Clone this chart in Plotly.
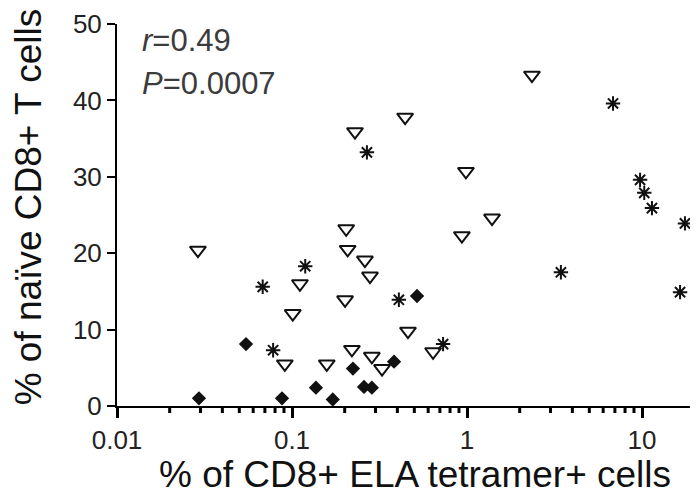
import plotly.graph_objects as go

# ---- data ----
tri_x = [0.029, 0.091, 0.101, 0.111, 0.158, 0.201, 0.204, 0.208, 0.220, 0.229,
         0.261, 0.279, 0.286, 0.327, 0.443, 0.46, 0.64, 0.935, 0.986, 1.39, 2.35]
tri_y = [20.4, 5.5, 12.1, 16.0, 5.5, 13.9, 23.2, 20.5, 7.4, 35.9,
         19.1, 17.0, 6.5, 4.9, 37.8, 9.8, 7.1, 22.3, 30.7, 24.6, 43.3]

ast_x = [0.068, 0.078, 0.119, 0.268, 0.408, 0.73, 3.44, 6.83, 9.75, 10.3, 11.4, 16.5, 17.6]
ast_y = [15.6, 7.3, 18.3, 33.2, 13.9, 8.1, 17.5, 39.6, 29.6, 27.9, 25.9, 14.9, 23.9]

dia_x = [0.0294, 0.0546, 0.0877, 0.137, 0.171, 0.223, 0.258, 0.286, 0.383, 0.518]
dia_y = [1.0, 8.1, 1.0, 2.4, 0.85, 4.9, 2.5, 2.4, 5.8, 14.4]

x_tick_vals = [0.01, 0.1, 1, 10]
x_tick_text = ["0.01", "0.1", "1", "10"]
y_tick_vals = [0, 10, 20, 30, 40, 50]

x_title = "% of CD8+ ELA tetramer+ cells"
y_title = "% of naïve CD8+ T cells"
stat_r = "<i>r</i>=0.49"
stat_p = "<i>P</i>=0.0007"

FONT = "Liberation Sans, Arial, sans-serif"
X_RANGE = [-2, 1.3143]

minor_vals = [m * 10 ** e for e in (-2, -1, 0, 1) for m in range(2, 10)
              if m * 10 ** e < 20]

fig = go.Figure()
fig.add_trace(go.Scatter(
    x=tri_x, y=tri_y, mode="markers", cliponaxis=False,
    marker=dict(symbol="triangle-down-open", size=14, color="#111111",
                line=dict(width=2, color="#111111")),
))
fig.add_trace(go.Scatter(
    x=ast_x, y=ast_y, mode="markers", cliponaxis=False,
    marker=dict(symbol="asterisk", size=12, color="#111111",
                line=dict(width=2, color="#111111")),
))
fig.add_trace(go.Scatter(
    x=dia_x, y=dia_y, mode="markers", cliponaxis=False,
    marker=dict(symbol="diamond", size=11, color="#111111",
                line=dict(width=0)),
))

# minor log ticks drawn as short pixel-sized lines below the x axis
minor_shapes = [
    dict(type="line", xref="x", yref="paper", x0=v, x1=v,
         ysizemode="pixel", yanchor=0, y0=0, y1=-7,
         line=dict(color="black", width=3), layer="above")
    for v in minor_vals
]

# the page body has an 8px default margin, so the figure is sized to fit inside
fig.update_layout(
    width=690, height=487,
    margin=dict(l=109, r=1, t=11, b=89),
    paper_bgcolor="white", plot_bgcolor="white",
    showlegend=False,
    font=dict(family=FONT, color="#111111"),
    shapes=minor_shapes,
    xaxis=dict(
        type="log", range=X_RANGE,
        tickmode="array", tickvals=x_tick_vals, ticktext=x_tick_text,
        ticks="outside", ticklen=10, tickwidth=3, tickcolor="black",
        showline=True, linecolor="black", linewidth=2,
        showgrid=False, zeroline=False,
        tickfont=dict(size=26, family=FONT, color="#222222"),
    ),
    yaxis=dict(
        range=[0, 50],
        tickmode="array", tickvals=y_tick_vals,
        ticks="outside", ticklen=8, tickwidth=2, tickcolor="black",
        showline=True, linecolor="black", linewidth=2,
        showgrid=False, zeroline=False, ticklabeloverflow="allow",
        tickfont=dict(size=26, family=FONT, color="#222222"),
    ),
    annotations=[
        dict(text=y_title, xref="paper", yref="paper", x=0, y=0.52,
             xshift=-89, xanchor="center", yanchor="middle", textangle=-90,
             showarrow=False, font=dict(size=37, family=FONT, color="#111111")),
        dict(text=x_title, xref="paper", yref="paper", x=0.514, y=0,
             yshift=-68, xanchor="center", yanchor="middle",
             showarrow=False, font=dict(size=37, family=FONT, color="#111111")),
        dict(text=stat_r, xref="paper", yref="paper", x=0.04, y=0.956,
             xanchor="left", yanchor="middle", showarrow=False,
             font=dict(size=31, family=FONT, color="#3c3c3c")),
        dict(text=stat_p, xref="paper", yref="paper", x=0.04, y=0.845,
             xanchor="left", yanchor="middle", showarrow=False,
             font=dict(size=31, family=FONT, color="#3c3c3c")),
    ],
)

fig.write_html("out.html")
